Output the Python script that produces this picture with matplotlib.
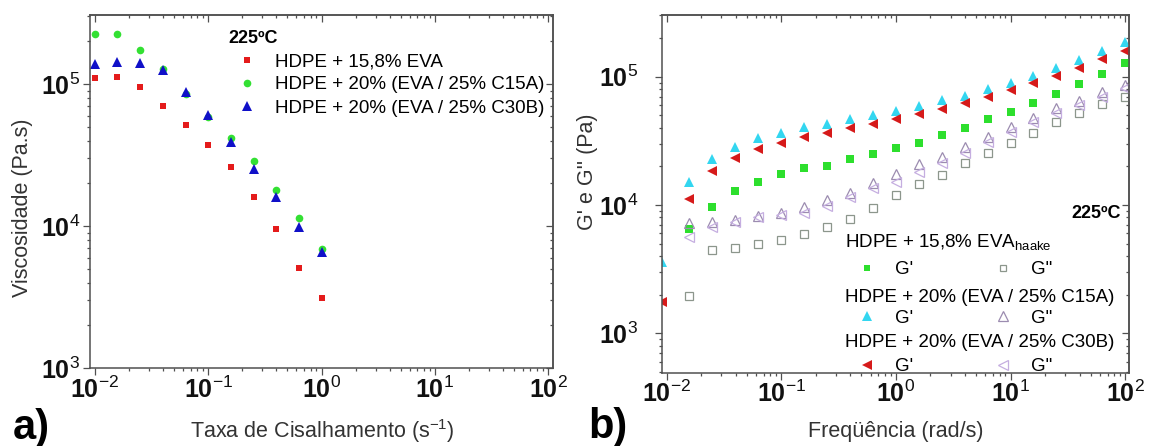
import matplotlib.pyplot as plt
import numpy as np
from matplotlib.lines import Line2D
from matplotlib.ticker import FuncFormatter, NullFormatter

plt.rcParams["font.family"] = ["Liberation Sans", "DejaVu Sans"]
plt.rcParams["mathtext.fontset"] = "custom"
plt.rcParams["mathtext.rm"] = "Liberation Sans"
plt.rcParams["mathtext.it"] = "Liberation Sans:italic"
plt.rcParams["mathtext.bf"] = "Liberation Sans:bold"

# a) viscosity vs shear rate, 225 C
shear_rate = [0.01, 0.0158, 0.0251, 0.0398, 0.0631, 0.1, 0.158, 0.251, 0.398, 0.631, 1.0]
visc_eva = [1.11e5, 1.125e5, 9.57e4, 7.0e4, 5.12e4, 3.70e4, 2.59e4, 1.61e4, 9.5e3, 5.08e3, 3.13e3]
visc_c15a = [2.26e5, 2.25e5, 1.73e5, 1.27e5, 8.45e4, 5.82e4, 4.15e4, 2.86e4, 1.80e4, 1.14e4, 6.92e3]
visc_c30b = [1.38e5, 1.43e5, 1.40e5, 1.26e5, 8.74e4, 6.03e4, 3.88e4, 2.51e4, 1.61e4, 9.88e3, 6.59e3]
labels_a = ["HDPE + 15,8% EVA", "HDPE + 20% (EVA / 25% C15A)", "HDPE + 20% (EVA / 25% C30B)"]

# b) G' and G'' vs frequency, 225 C
freq = [0.0158, 0.0251, 0.0398, 0.0631, 0.1, 0.158, 0.251, 0.398, 0.631, 1.0,
        1.58, 2.51, 3.98, 6.31, 10, 15.8, 25.1, 39.8, 63.1, 100]
gp_eva = [6.47e3, 9.6e3, 1.29e4, 1.52e4, 1.73e4, 1.95e4, 2.02e4, 2.30e4, 2.51e4, 2.78e4,
          3.06e4, 3.49e4, 4.00e4, 4.66e4, 5.31e4, 6.27e4, 7.33e4, 8.73e4, 1.05e5, 1.27e5]
gpp_eva = [1.95e3, 4.46e3, 4.59e3, 4.96e3, 5.33e3, 5.91e3, 6.78e3, 7.78e3, 9.52e3, 1.20e4,
           1.46e4, 1.71e4, 2.11e4, 2.53e4, 3.03e4, 3.66e4, 4.44e4, 5.24e4, 6.12e4, 6.98e4]
gp_c15a = [1.52e4, 2.27e4, 2.85e4, 3.31e4, 3.66e4, 4.04e4, 4.28e4, 4.66e4, 5.03e4, 5.45e4,
           5.92e4, 6.58e4, 7.08e4, 7.98e4, 8.98e4, 1.02e5, 1.16e5, 1.35e5, 1.59e5, 1.85e5]
gpp_c15a = [7.2e3, 7.33e3, 7.64e3, 8.2e3, 8.6e3, 9.6e3, 1.09e4, 1.25e4, 1.48e4, 1.75e4,
            2.08e4, 2.38e4, 2.85e4, 3.40e4, 4.03e4, 4.74e4, 5.68e4, 6.51e4, 7.64e4, 8.61e4]
gp_c30b = [1.11e4, 1.85e4, 2.31e4, 2.72e4, 3.06e4, 3.37e4, 3.62e4, 3.96e4, 4.31e4, 4.71e4,
           5.12e4, 5.57e4, 6.21e4, 6.99e4, 7.87e4, 8.98e4, 1.02e5, 1.16e5, 1.37e5, 1.60e5]
gpp_c30b = [5.66e3, 6.78e3, 7.41e3, 8.13e3, 8.36e3, 8.66e3, 9.82e3, 1.16e4, 1.35e4, 1.52e4,
            1.82e4, 2.11e4, 2.53e4, 3.11e4, 3.72e4, 4.46e4, 5.19e4, 6.01e4, 6.98e4, 8.13e4]
# points sitting on the left edge of panel b (half clipped)
freq_edge = [0.0091]
gp_c15a_edge = [3.6e3]
gp_c30b_edge = [1.76e3]
headers_b = [r"HDPE + 15,8% EVA$_{\mathrm{haake}}$", "HDPE + 20% (EVA / 25% C15A)",
             "HDPE + 20% (EVA / 25% C30B)"]

SPINE = "#505050"


def pow10(v, pos):
    return r"$\mathbf{10}^{%d}$" % int(round(np.log10(v)))


def style_axes(ax, ypad, xpad):
    ax.set_xscale("log")
    ax.set_yscale("log")
    for s in ax.spines.values():
        s.set_color(SPINE)
        s.set_linewidth(1.1)
    ax.tick_params(which="both", direction="out", color=SPINE, labelcolor="#111111",
                   labelsize=18, width=0.9)
    ax.tick_params(which="major", length=5)
    ax.tick_params(which="minor", length=2.5)
    ax.tick_params(axis="y", pad=ypad)
    ax.tick_params(axis="x", pad=xpad)
    for axis in (ax.xaxis, ax.yaxis):
        axis.set_major_formatter(FuncFormatter(pow10))
        axis.set_minor_formatter(NullFormatter())
    top = ax.secondary_xaxis("top")
    top.tick_params(which="both", direction="in", color=SPINE, labeltop=False, width=0.9)
    top.tick_params(which="major", length=5)
    top.tick_params(which="minor", length=2.5)
    right = ax.secondary_yaxis("right")
    right.tick_params(which="both", direction="in", color=SPINE, labelright=False, width=0.9)
    right.tick_params(which="major", length=5)
    right.tick_params(which="minor", length=2.5)
    for sec in (top, right):
        for s in sec.spines.values():
            s.set_color(SPINE)
            s.set_linewidth(1.1)


fig = plt.figure(figsize=(11.49, 4.46), dpi=100)
W, H = 1149, 446
ax1 = fig.add_axes([90 / W, 1 - 368 / H, 463 / W, 353 / H])
ax2 = fig.add_axes([661.7 / W, 1 - 372.7 / H, 467.6 / W, 357.7 / H])

# ---- panel a
ax1.plot(shear_rate, visc_eva, "s", color="#e41b1b", ms=5, mew=0, label=labels_a[0])
ax1.plot(shear_rate, visc_c15a, "o", color="#33e033", ms=5.5, mew=0, label=labels_a[1])
ax1.plot(shear_rate, visc_c30b, "^", color="#1010c8", ms=6.5, mew=0, label=labels_a[2])
style_axes(ax1, ypad=2, xpad=1.5)
ax1.set_xlim(10 ** -2.044, 10 ** 2.044)
ax1.set_ylim(1e3, 10 ** 5.486)
ax1.set_xlabel(r"Taxa de Cisalhamento (s$^{-1}$)", fontsize=15.5, color="#333333")
ax1.set_ylabel("Viscosidade (Pa.s)", fontsize=15.5, color="#333333")
ax1.xaxis.set_label_coords(0.501, -0.139)
ax1.yaxis.set_label_coords(-0.123, 0.453)
ax1.legend(title="225ºC", loc="upper left", bbox_to_anchor=(0.298, 0.958), frameon=False,
           borderpad=0, borderaxespad=0, handlelength=2.0, handletextpad=0.5,
           labelspacing=0.33, fontsize=13.5, alignment="left",
           title_fontproperties={"weight": "bold", "size": 13})

# ---- panel b
ax2.plot(freq, gp_eva, "s", color="#2ddf2d", ms=5.5, mew=0)
ax2.plot(freq, gpp_eva, "s", mfc="none", mec="#8c968c", ms=5.5, mew=0.9)
ax2.plot(freq, gpp_c15a, "^", mfc="none", mec="#9c8cb0", ms=7, mew=0.9)
ax2.plot(freq, gpp_c30b, "<", mfc="none", mec="#c5aee0", ms=7, mew=0.9)
ax2.plot(freq, gp_c15a, "^", color="#33d6f0", ms=7, mew=0)
ax2.plot(freq, gp_c30b, "<", color="#d61a1a", ms=7, mew=0)
ax2.plot(freq_edge, gp_c15a_edge, "^", color="#33d6f0", ms=7, mew=0)
ax2.plot(freq_edge, gp_c30b_edge, "<", color="#d61a1a", ms=7, mew=0)
style_axes(ax2, ypad=12, xpad=0.5)
ax2.set_xlim(10 ** -2.043, 10 ** 2.035)
ax2.set_ylim(10 ** 2.693, 10 ** 5.481)
ax2.set_xlabel("Freqüência (rad/s)", fontsize=15.5, color="#333333")
ax2.set_ylabel("G' e G'' (Pa)", fontsize=15.5, color="#333333")
ax2.xaxis.set_label_coords(0.501, -0.134)
ax2.yaxis.set_label_coords(-0.136, 0.561)

ax2.text(0.982, 0.444, "225ºC", transform=ax2.transAxes, ha="right", va="center",
         fontsize=13, fontweight="bold")
for y, txt in zip([0.352, 0.198, 0.073], headers_b):
    ax2.text(0.392, y, txt, transform=ax2.transAxes, ha="left", va="baseline", fontsize=13.5)

handles_b = [
    Line2D([], [], ls="none", marker="s", color="#2ddf2d", ms=5, mew=0),
    Line2D([], [], ls="none", marker="^", color="#33d6f0", ms=6.5, mew=0),
    Line2D([], [], ls="none", marker="<", color="#d61a1a", ms=6.5, mew=0),
    Line2D([], [], ls="none", marker="s", mfc="none", mec="#8c968c", ms=5, mew=0.9),
    Line2D([], [], ls="none", marker="^", mfc="none", mec="#9c8cb0", ms=6.5, mew=0.9),
    Line2D([], [], ls="none", marker="<", mfc="none", mec="#c5aee0", ms=6.5, mew=0.9),
]
ax2.legend(handles_b, ["G'", "G'", "G'", 'G"', 'G"', 'G"'], ncol=2, loc="center left",
           bbox_to_anchor=(0.418, 0.152), frameon=False, borderpad=0, borderaxespad=0,
           handlelength=1.0, handletextpad=1.0, columnspacing=4.3, labelspacing=1.67,
           fontsize=13.5)

fig.text(12.7 / W, 1 - 439 / H, "a)", fontsize=30, fontweight="bold", va="baseline")
fig.text(588 / W, 1 - 438 / H, "b)", fontsize=30, fontweight="bold", va="baseline")

fig.savefig("out.png", dpi=100)
